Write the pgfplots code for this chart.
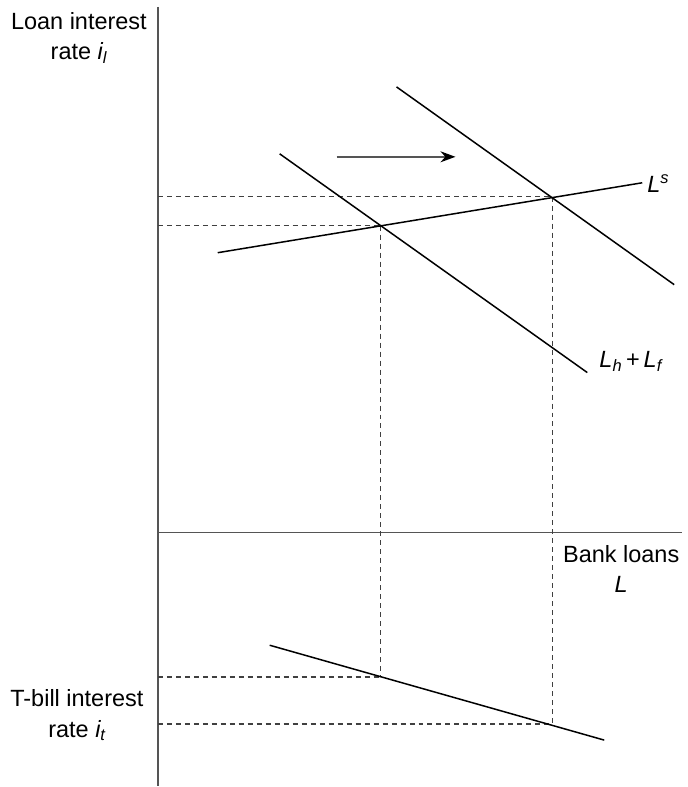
\documentclass[border=0pt]{standalone}
\usepackage{fontspec}
\setmainfont{Liberation Sans}
\usepackage{pgfplots}
\pgfplotsset{compat=1.18}
\usetikzlibrary{arrows.meta}
\definecolor{axgray}{HTML}{555555}
\definecolor{dashgray}{HTML}{404040}
\begin{document}
\fontsize{23.5bp}{29bp}\selectfont
\begin{tikzpicture}
\begin{axis}[
  width=683bp, height=787bp, scale only axis,
  xmin=0, xmax=683, ymin=0, ymax=787, y dir=reverse,
  hide axis, clip=false,
]
\path (axis cs:0,0) rectangle (axis cs:683,787);
% axes
\addplot[axgray, line width=1.9bp] coordinates {(158,7) (158,787)};
\addplot[axgray, line width=1.6bp] coordinates {(158,533) (683,533)};
% dashed guides
\addplot[dashgray, line width=1.4bp, dash pattern=on 5bp off 4bp] coordinates {(158,197) (553,197)};
\addplot[dashgray, line width=1.4bp, dash pattern=on 5bp off 4bp] coordinates {(158,226) (381,226)};
\addplot[dashgray, line width=1.4bp, dash pattern=on 5bp off 4bp] coordinates {(381,226) (381,678)};
\addplot[dashgray, line width=1.4bp, dash pattern=on 5bp off 4bp] coordinates {(553,197) (553,725)};
\addplot[dashgray, line width=1.4bp, dash pattern=on 5bp off 4bp] coordinates {(158,678) (381,678)};
\addplot[dashgray, line width=1.4bp, dash pattern=on 5bp off 4bp] coordinates {(158,725) (553,725)};
% supply
\addplot[black, line width=1.5bp] coordinates {(218,253) (643,183)};
% demand curves
\addplot[black, line width=1.5bp] coordinates {(280,154) (588,373)};
\addplot[black, line width=1.5bp] coordinates {(397,87) (675,285)};
% T-bill line
\addplot[black, line width=1.5bp] coordinates {(270,646) (605,741)};
% shift arrow
\addplot[axgray, line width=1.6bp, -{Stealth[length=15bp,width=11bp,black]}] coordinates {(337,157) (456,157)};
% labels
\node[anchor=base] at (axis cs:79,30) {Loan interest};
\node[anchor=base] at (axis cs:79,60) {rate \textit{i\textsubscript{l}}};
\node[anchor=base] at (axis cs:77,707) {T-bill interest};
\node[anchor=base] at (axis cs:77,738) {rate \textit{i\textsubscript{t}}};
\node[anchor=base] at (axis cs:622,563) {Bank loans};
\node[anchor=base] at (axis cs:622,593) {\textit{L}};
\node[anchor=base west, inner sep=0pt] at (axis cs:648,193) {\textit{L\textsuperscript{s}}};
\node[anchor=base west, inner sep=0pt] at (axis cs:600,368) {\textit{L\textsubscript{h}}\,+\,\textit{L\textsubscript{f}}};
\end{axis}
\end{tikzpicture}
\end{document}
